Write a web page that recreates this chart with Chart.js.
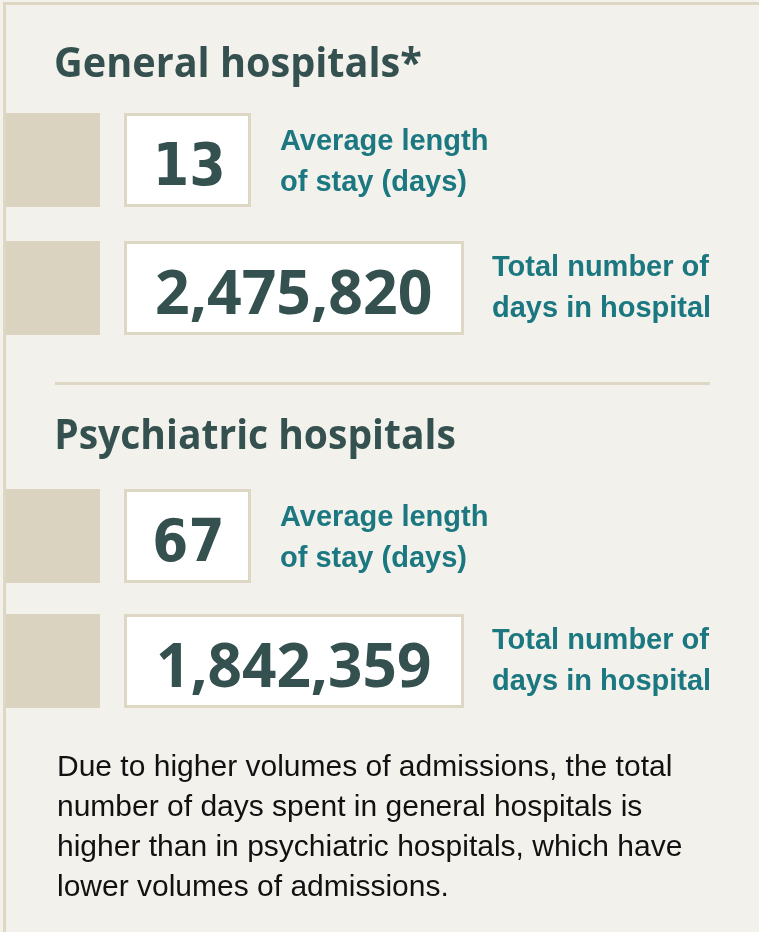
<!DOCTYPE html>
<html>
<head>
<meta charset="utf-8">
<style>
  html, body { margin: 0; padding: 0; background: #f2f1ec; }
  canvas { display: block; }
</style>
</head>
<body>
<canvas id="infoChart" width="759" height="932"></canvas>
<script src="https://cdn.jsdelivr.net/npm/chart.js"></script>
<script>
  const sections = ['General hospitals*', 'Psychiatric hospitals'];
  const avgStay = [13, 67];
  const totalDays = [2475820, 1842359];
  const stayLabel = ['Average length', 'of stay (days)'];
  const daysLabel = ['Total number of', 'days in hospital'];
  const noteLines = [
    'Due to higher volumes of admissions, the total',
    'number of days spent in general hospitals is',
    'higher than in psychiatric hospitals, which have',
    'lower volumes of admissions.'
  ];

  // Layout (pixels)
  const titleY = [77, 449];
  const titleInk = [[56, 421], [57, 455]];
  const row1Top = [113, 489];
  const row2Top = [241, 614];
  const stayInk = [[158, 222], [155, 221]];
  const daysInk = [[157, 431], [159, 430]];

  const colors = {
    bg: '#f2f1ec',
    tan: '#d9d3bf',
    frame: '#ddd7c3',
    dark: '#34504f',
    teal: '#1b7780',
    text: '#111111'
  };

  // draw text so that its ink runs from x0 to x1
  function fillInk(ctx, text, x0, x1, y) {
    ctx.textAlign = 'left';
    const m = ctx.measureText(text);
    const inkW = m.actualBoundingBoxLeft + m.actualBoundingBoxRight;
    const s = (x1 - x0) / inkW;
    ctx.save();
    ctx.translate(x0, y);
    ctx.scale(s, 1);
    ctx.fillText(text, m.actualBoundingBoxLeft, 0);
    ctx.restore();
  }

  function numberBox(ctx, x, top, w, h) {
    ctx.fillStyle = '#ffffff';
    ctx.fillRect(x, top, w, h);
    ctx.strokeStyle = colors.frame;
    ctx.lineWidth = 3;
    ctx.strokeRect(x + 1.5, top + 1.5, w - 3, h - 3);
  }

  const infoPlugin = {
    id: 'infographic',
    beforeDraw(chart) {
      const ctx = chart.ctx;
      ctx.save();
      ctx.fillStyle = colors.bg;
      ctx.fillRect(0, 0, chart.width, chart.height);

      // frame on top and left
      ctx.fillStyle = colors.frame;
      ctx.fillRect(3, 2, chart.width - 3, 3);
      ctx.fillRect(3, 2, 3, chart.height - 2);

      ctx.textBaseline = 'alphabetic';
      sections.forEach((name, i) => {
        // section title
        ctx.fillStyle = colors.dark;
        ctx.font = 'bold 42px "Open Sans"';
        fillInk(ctx, name, titleInk[i][0], titleInk[i][1], titleY[i]);

        // row 1: average stay
        ctx.fillStyle = colors.tan;
        ctx.fillRect(6, row1Top[i], 94, 94);
        numberBox(ctx, 124, row1Top[i], 127, 94);
        ctx.fillStyle = colors.dark;
        ctx.font = 'bold 59px "DejaVu Sans"';
        fillInk(ctx, String(avgStay[i]), stayInk[i][0], stayInk[i][1], row1Top[i] + 72);

        ctx.fillStyle = colors.teal;
        ctx.textAlign = 'left';
        ctx.font = 'bold 29px "Liberation Sans"';
        ctx.fillText(stayLabel[0], 280, row1Top[i] + 37);
        ctx.fillText(stayLabel[1], 280, row1Top[i] + 78);

        // row 2: total days
        ctx.fillStyle = colors.tan;
        ctx.fillRect(6, row2Top[i], 94, 94);
        numberBox(ctx, 124, row2Top[i], 340, 94);
        ctx.fillStyle = colors.dark;
        ctx.font = 'bold 60px "Open Sans"';
        fillInk(ctx, totalDays[i].toLocaleString('en-US'), daysInk[i][0], daysInk[i][1], row2Top[i] + 73);

        ctx.fillStyle = colors.teal;
        ctx.textAlign = 'left';
        ctx.font = 'bold 29px "Liberation Sans"';
        ctx.fillText(daysLabel[0], 492, row2Top[i] + 35);
        ctx.fillText(daysLabel[1], 492, row2Top[i] + 76);
      });

      // divider between the sections
      ctx.fillStyle = colors.frame;
      ctx.fillRect(55, 382, 655, 3);

      // note
      ctx.fillStyle = colors.text;
      ctx.textAlign = 'left';
      ctx.font = '30px "Liberation Sans"';
      noteLines.forEach((line, k) => {
        ctx.fillText(line, 57, 776 + k * 40);
      });
      ctx.restore();
    }
  };

  const infoChart = new Chart(document.getElementById('infoChart'), {
    type: 'bar',
    data: { labels: [], datasets: [] },
    options: {
      responsive: false,
      animation: false,
      plugins: { legend: { display: false }, tooltip: { enabled: false } },
      scales: { x: { display: false }, y: { display: false } }
    },
    plugins: [infoPlugin]
  });
</script>
</body>
</html>
